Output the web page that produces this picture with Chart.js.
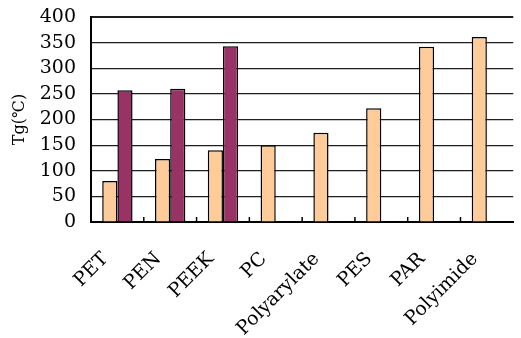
<!DOCTYPE html>
<html>
<head>
<meta charset="utf-8">
<script src="https://cdn.jsdelivr.net/npm/chart.js@4/dist/chart.umd.min.js"></script>
<style>
  html, body { margin: 0; padding: 0; background: #fff; }
  #wrap { width: 521px; height: 338px; }
</style>
</head>
<body>
<div id="wrap"><canvas id="c" width="521" height="338"></canvas></div>
<script>
// Polymer names along the category axis
const polymers = ['PET', 'PEN', 'PEEK', 'PC', 'Polyarylate', 'PES', 'PAR', 'Polyimide'];
// Glass transition temperature (℃)
const glassTransition = [80, 123, 140, 150, 174, 222, 342, 361];
// Melting temperature (℃), only for the semi-crystalline polymers
const meltingPoint = [257, 260, 343, null, null, null, null, null];
// Value axis ticks
const yTicks = [0, 50, 100, 150, 200, 250, 300, 350, 400];

const serif = '"DejaVu Serif", "Liberation Serif", serif';

// Short inward tick marks between categories on the bottom axis
const innerTicks = {
  id: 'innerTicks',
  afterDatasetsDraw(chart) {
    const x = chart.scales.x;
    const ctx = chart.ctx;
    const bottom = chart.chartArea.bottom;
    ctx.save();
    ctx.strokeStyle = '#000';
    ctx.lineWidth = 1.5;
    for (let i = 1; i < polymers.length; i++) {
      const px = (x.getPixelForValue(i - 1) + x.getPixelForValue(i)) / 2;
      ctx.beginPath();
      ctx.moveTo(px, bottom);
      ctx.lineTo(px, bottom - 5);
      ctx.stroke();
    }
    ctx.restore();
  }
};

new Chart(document.getElementById('c'), {
  type: 'bar',
  data: {
    labels: polymers,
    datasets: [
      {
        label: 'Tg',
        data: glassTransition,
        backgroundColor: '#FFCC99',
        borderColor: '#000',
        borderWidth: 1.5,
        borderSkipped: 'bottom'
      },
      {
        label: 'Tm',
        data: meltingPoint,
        backgroundColor: '#993366',
        borderColor: '#000',
        borderWidth: 1.5,
        borderSkipped: 'bottom'
      }
    ]
  },
  options: {
    responsive: false,
    animation: false,
    devicePixelRatio: 1,
    layout: { padding: { top: 17, right: -3, left: 0, bottom: 0 } },
    plugins: { legend: { display: false }, tooltip: { enabled: false } },
    datasets: { bar: { categoryPercentage: 0.575, barPercentage: 1 } },
    scales: {
      x: {
        grid: { display: false },
        border: { display: true, color: '#000', width: 2 },
        ticks: {
          color: '#000',
          font: { family: serif, size: 19 },
          minRotation: 45,
          maxRotation: 45,
          autoSkip: false,
          padding: 18,
          labelOffset: -12
        },
        afterFit(scale) { scale.height = 116; }
      },
      y: {
        min: 0,
        max: 400,
        afterBuildTicks(scale) { scale.ticks = yTicks.map(v => ({ value: v })); },
        grid: {
          drawTicks: false,
          color: '#1e1e1e',
          lineWidth: (c) => (c.tick && c.tick.value === 400 ? 2 : 1.2)
        },
        border: { display: true, color: '#000', width: 2 },
        ticks: {
          color: '#000',
          autoSkip: false,
          font: { family: serif, size: 19 },
          padding: 15
        },
        title: {
          display: true,
          text: 'Tg(℃)',
          color: '#000',
          font: { family: serif, size: 16 },
          padding: { top: 10, bottom: 0 }
        },
        afterFit(scale) {
          scale.width = 91;
          scale.paddingTop = 0;
          scale.paddingBottom = 0;
        }
      }
    }
  },
  plugins: [innerTicks]
});
</script>
</body>
</html>
